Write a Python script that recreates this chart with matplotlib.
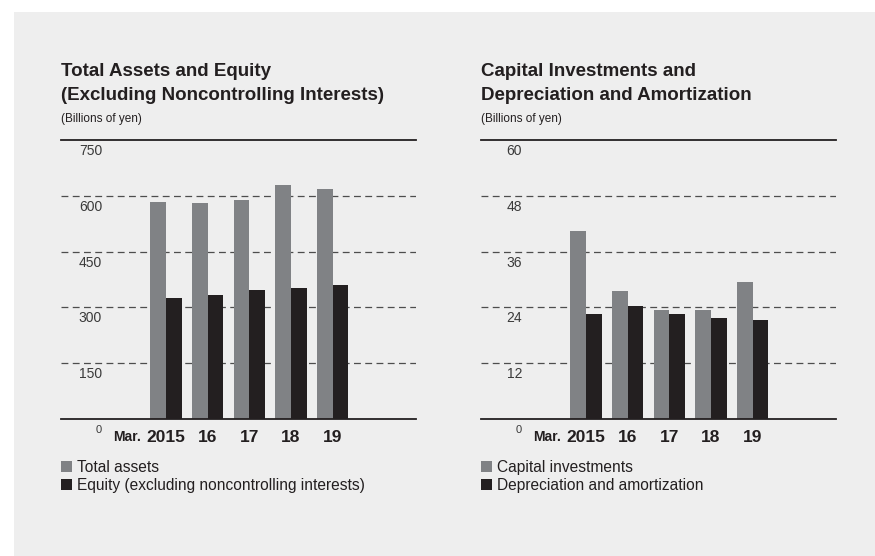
import matplotlib
matplotlib.use("Agg")
import matplotlib.pyplot as plt
import matplotlib.transforms as mtransforms
from matplotlib.patches import Patch, Rectangle
import numpy as np

plt.rcParams['font.family'] = ['Liberation Sans Narrow', 'DejaVu Sans Condensed', 'Liberation Sans', 'DejaVu Sans']

years = ["2015", "16", "17", "18", "19"]

total_assets = [583, 580, 589, 629, 618]
equity = [325, 333, 347, 352, 360]

capital_investments = [40.4, 27.5, 23.4, 23.4, 29.5]
depreciation = [22.6, 24.3, 22.6, 21.7, 21.3]

GRAY = "#808285"
DARK = "#231f20"
TEXT = "#231f20"
PANEL = "#eeeeee"

W, H = 875, 556
fig = plt.figure(figsize=(W / 100, H / 100), dpi=100)
fig.patch.set_facecolor("white")
fig.patches.append(Rectangle((14 / W, 0), 1 - 14 / W, (H - 12) / H,
                             transform=fig.transFigure, facecolor=PANEL,
                             edgecolor="none", zorder=-10))


def px_box(x0, x1, ytop, ybot):
    return [x0 / W, 1 - ybot / H, (x1 - x0) / W, (ybot - ytop) / H]


def draw_panel(left, right, title, values_a, values_b, ymax, step, labels):
    ax = fig.add_axes(px_box(left, right, 140, 419))
    ax.set_facecolor("none")
    x = np.arange(len(years))
    bw = 0.375
    ax.bar(x - bw / 2, values_a, width=bw, color=GRAY, zorder=3)
    ax.bar(x + bw / 2, values_b, width=bw, color=DARK, zorder=3)
    ax.set_xlim(-2.52, 6.0)
    ax.set_ylim(0, ymax)

    for sp in ["left", "right"]:
        ax.spines[sp].set_visible(False)
    for sp in ["top", "bottom"]:
        ax.spines[sp].set_color(DARK)
        ax.spines[sp].set_linewidth(1.3)
        ax.spines[sp].set_zorder(4)

    ticks = np.arange(0, ymax + step / 2, step)
    for t in ticks[1:-1]:
        ax.axhline(t, color="#4d4d4d", lw=0.9, ls=(0, (5.5, 3.5)), zorder=1)

    ax.set_xticks([])
    ax.set_yticks([])

    # value labels sit just below each gridline, right-aligned near the left edge
    lab_off = mtransforms.offset_copy(ax.transAxes, fig=fig, x=0, y=0, units="dots")
    lab_tr = mtransforms.blended_transform_factory(ax.transAxes, ax.transData)
    lab_tr = lab_tr + mtransforms.ScaledTranslation(0, -11 / 100, fig.dpi_scale_trans)
    xlab = 41 / (right - left)
    for t in ticks:
        fs = 8 if t == 0 else 10
        ax.text(xlab, t, f"{t:g}", ha="right", va="center", fontsize=fs,
                color="#3a3a3a", transform=lab_tr, clip_on=False)

    year_off = mtransforms.offset_copy(ax.transData, fig=fig, x=0, y=-18, units="dots")
    for xi, yr in zip(x, years):
        ax.text(xi, 0, yr, ha="center", va="center", fontsize=12.5,
                fontweight="bold", color=TEXT, transform=year_off, clip_on=False)
    mar_off = mtransforms.offset_copy(ax.transData, fig=fig, x=-4, y=-18, units="dots")
    ax.text(-0.5, 0, "Mar.", ha="right", va="center", fontsize=10,
            fontweight="bold", color=TEXT, transform=mar_off, clip_on=False)

    fig.text(left / W, 1 - 76 / H, title[0], fontsize=13.5, fontweight="bold",
             color=TEXT, ha="left", va="baseline")
    fig.text(left / W, 1 - 100 / H, title[1], fontsize=13.5, fontweight="bold",
             color=TEXT, ha="left", va="baseline")
    fig.text(left / W, 1 - 122 / H, "(Billions of yen)", fontsize=8.5,
             color=TEXT, ha="left", va="baseline")

    handles = [Patch(facecolor=GRAY, edgecolor="none"),
               Patch(facecolor=DARK, edgecolor="none")]
    ax.legend(handles, labels, loc="upper left",
              bbox_to_anchor=(left / W, 1 - 460 / H), bbox_transform=fig.transFigure,
              frameon=False, fontsize=11.2, handlelength=0.72, handleheight=0.72,
              handletextpad=0.3, labelspacing=0.2, borderpad=0, borderaxespad=0,
              labelcolor=TEXT)
    return ax


draw_panel(61, 416, ["Total Assets and Equity", "(Excluding Noncontrolling Interests)"],
           total_assets, equity, 750, 150,
           ["Total assets", "Equity (excluding noncontrolling interests)"])
draw_panel(481, 836, ["Capital Investments and", "Depreciation and Amortization"],
           capital_investments, depreciation, 60, 12,
           ["Capital investments", "Depreciation and amortization"])

fig.savefig("out.png", dpi=100, facecolor=fig.get_facecolor())
